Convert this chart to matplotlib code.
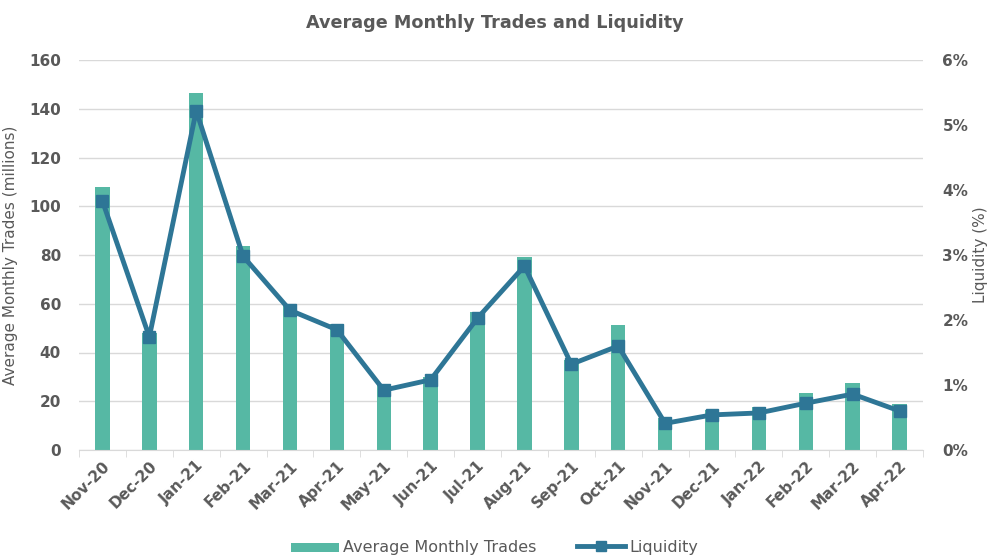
import matplotlib
matplotlib.use("Agg")
import matplotlib.pyplot as plt
import numpy as np
from matplotlib.ticker import FuncFormatter, MultipleLocator

months = ["Nov-20", "Dec-20", "Jan-21", "Feb-21", "Mar-21", "Apr-21", "May-21", "Jun-21",
          "Jul-21", "Aug-21", "Sep-21", "Oct-21", "Nov-21", "Dec-21", "Jan-22", "Feb-22",
          "Mar-22", "Apr-22"]
trades = [108, 48, 146.5, 83.5, 60, 51.5, 26.5, 30, 56.5, 79, 37, 51.3, 13, 16.4, 17.6, 23.4, 27.5, 18.9]
liquidity = [3.83, 1.74, 5.22, 2.98, 2.15, 1.85, 0.92, 1.08, 2.03, 2.83, 1.32, 1.6, 0.41, 0.54, 0.57, 0.72, 0.86, 0.6]

bar_color = "#56B8A4"
line_color = "#2E7696"
text_color = "#595959"
grid_color = "#D9D9D9"

plt.rcParams['font.family'] = ['DejaVu Sans']

fig = plt.figure(figsize=(9.89, 5.58), dpi=100)
ax = fig.add_axes([79 / 989, 1 - 450 / 558, (923 - 79) / 989, 390 / 558])
ax2 = ax.twinx()

x = np.arange(len(months))
ax.bar(x, trades, width=0.31, color=bar_color, zorder=2, label="Average Monthly Trades")
ax2.plot(x, liquidity, color=line_color, lw=3.5, marker="s", ms=9, zorder=3, label="Liquidity")

ax.set_xlim(-0.5, len(months) - 0.5)
ax.set_ylim(0, 160)
ax2.set_ylim(0, 6)
ax.yaxis.set_major_locator(MultipleLocator(20))
ax2.yaxis.set_major_locator(MultipleLocator(1))
ax2.yaxis.set_major_formatter(FuncFormatter(lambda v, p: f"{v:.0f}%"))

ax.grid(axis="y", color=grid_color, lw=1, zorder=0)
ax.set_axisbelow(True)

for a in (ax, ax2):
    for s in ["top", "right", "left"]:
        a.spines[s].set_visible(False)
    a.spines["bottom"].set_color(grid_color)
ax2.spines["bottom"].set_visible(False)

ax.set_xticks(x)
ax.set_xticklabels(months, rotation=45, ha="right", rotation_mode="anchor",
                   fontsize=11, fontweight="bold", color=text_color)
ax.set_xticks(np.arange(-0.5, len(months)), minor=True)
ax.tick_params(axis="x", which="major", length=0, pad=6)
ax.tick_params(axis="x", which="minor", length=5, color=grid_color)
ax.tick_params(axis="y", length=0, labelsize=11, labelcolor=text_color, pad=13)
ax2.tick_params(axis="y", length=0, labelsize=11, labelcolor=text_color, pad=14)
for lab in ax.get_yticklabels() + ax2.get_yticklabels():
    lab.set_fontweight("bold")

ax.set_ylabel("Average Monthly Trades (millions)", fontsize=11, color=text_color, labelpad=8)
ax2.set_ylabel("Liquidity (%)", fontsize=11, color=text_color, labelpad=3)

fig.suptitle("Average Monthly Trades and Liquidity", x=0.5, y=0.975, fontsize=12.7,
             fontweight="bold", color=text_color)

h1, l1 = ax.get_legend_handles_labels()
h2, l2 = ax2.get_legend_handles_labels()
leg = fig.legend(h1 + h2, l1 + l2, loc="lower center", bbox_to_anchor=(0.5, -0.02), ncol=2,
                 frameon=False, fontsize=11.5, handlelength=3, columnspacing=2.5, handletextpad=0.3)
for t in leg.get_texts():
    t.set_color(text_color)
leg.legend_handles[0].set_height(6)
leg.legend_handles[1].set_markersize(7)

fig.savefig("out.png", dpi=100)
